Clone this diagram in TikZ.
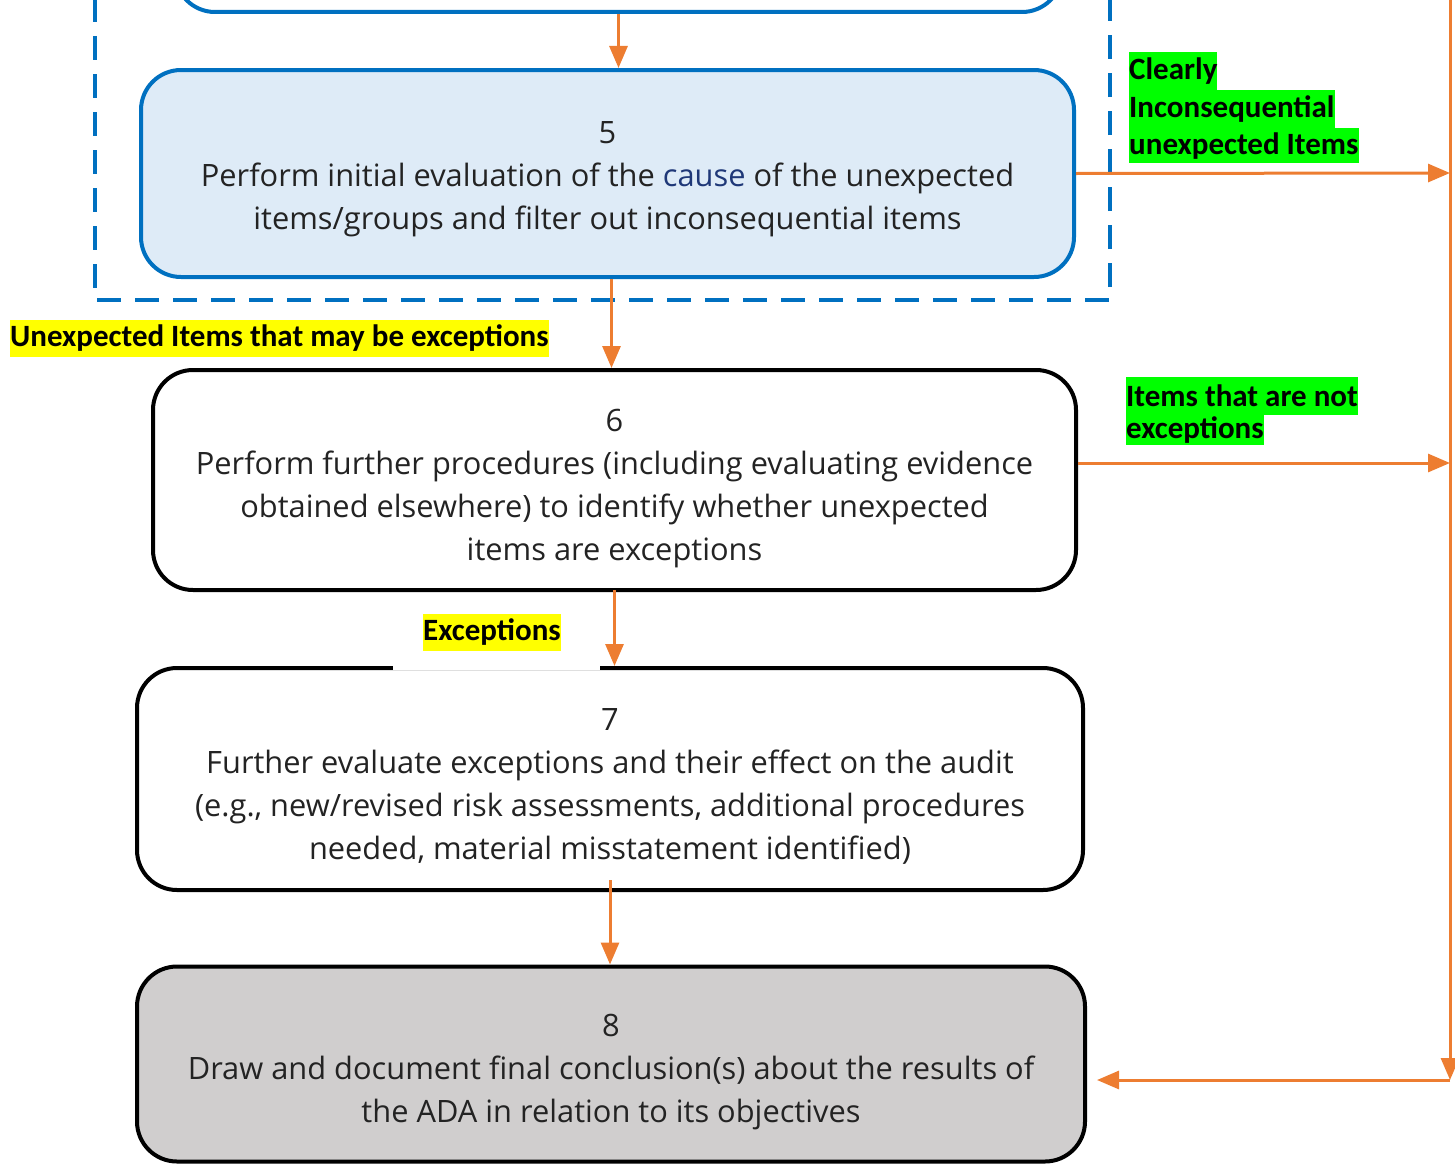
\documentclass[tikz,border=0pt]{standalone}
\usepackage{fontspec}
\setmainfont{Open Sans}
\newfontfamily\lblfont{Carlito}
\usetikzlibrary{arrows.meta,calc}
\definecolor{bblue}{RGB}{0,112,192}
\definecolor{lblue}{RGB}{222,235,247}
\definecolor{orng}{RGB}{237,125,49}
\definecolor{gbox}{RGB}{208,206,206}
\definecolor{navytxt}{RGB}{31,56,120}
\definecolor{txt}{RGB}{35,35,35}
\definecolor{hlgreen}{RGB}{0,255,0}
\definecolor{hlyellow}{RGB}{255,255,0}
\tikzset{
  boxbase/.style={rounded corners=40pt, line width=4pt, inner sep=0pt},
  bluebox/.style={boxbase, draw=bblue, fill=lblue},
  blackbox/.style={boxbase, draw=black, fill=white},
  graybox/.style={boxbase, draw=black, fill=gbox},
  boxtext/.style={align=center, inner sep=0pt, font=\fontsize{30.8}{43}\selectfont, text=txt},
  arr/.style={draw=orng, line width=3pt, -{Triangle[length=22pt,width=18pt]}},
  hlg/.style={fill=hlgreen, anchor=north west, inner sep=0pt, minimum height=38pt,
    font=\lblfont\bfseries\fontsize{31}{36}\selectfont, text=black},
  hly/.style={fill=hlyellow, inner sep=0pt, minimum height=37pt,
    font=\lblfont\bfseries\fontsize{31}{36}\selectfont, text=black},
}
\begin{document}
\begin{tikzpicture}[x=1pt,y=-1pt]
\useasboundingbox (0,0) rectangle (1455,1164);
\begin{scope}
\clip (0,0) rectangle (1455,1164);
% dashed group frame
\draw[bblue, line width=4pt, dash pattern=on 24pt off 14pt] (95,-40) rectangle (1110,300);
% partially visible top box
\node[boxbase, draw=bblue, fill=white, minimum width=887pt, minimum height=200pt] (box4) at (618.5,-88) {};
% boxes
\node[bluebox, minimum width=933pt, minimum height=207pt] (box5) at (607.5,173.5) {};
\node[boxtext] (box5txt) at ($(box5.center)+(0,6)$)
  {5\\Perform initial evaluation of the {\color{navytxt}cause} of the unexpected\\items/groups and filter out inconsequential items};
\node[blackbox, minimum width=923pt, minimum height=220pt] (box6) at (614.5,480) {};
\node[boxtext] (box6txt) at ($(box6.center)+(0,9)$)
  {6\\Perform further procedures (including evaluating evidence\\obtained elsewhere) to identify whether unexpected\\items are exceptions};
\node[blackbox, minimum width=946pt, minimum height=222pt] (box7) at (610,779) {};
\node[boxtext] (box7txt) at ($(box7.center)+(0,7)$)
  {7\\Further evaluate exceptions and their effect on the audit\\(e.g., new/revised risk assessments, additional procedures\\needed, material misstatement identified)};
\node[graybox, minimum width=948pt, minimum height=195pt] (box8) at (611,1064) {};
\node[boxtext] (box8txt) at ($(box8.center)+(0,8)$)
  {8\\Draw and document final conclusion(s) about the results of\\the ADA in relation to its objectives};
% white patch behind Exceptions label
\fill[white] (393,596) rectangle (600,670);
% labels
\node[hly, anchor=west] (lblUnexp) at (10,338) {Unexpected Items that may be exceptions};
\node[hly, anchor=west] (lblExc) at (423,632) {Exceptions};
\node[hlg] (cl1) at (1129,52) {Clearly};
\node[hlg] (cl2) at (1129,90) {Inconsequential};
\node[hlg, minimum height=35pt] (cl3) at (1129,128) {unexpected Items};
\node[hlg] (ne1) at (1126,377) {Items that are not};
\node[hlg, minimum height=30pt] (ne2) at (1126,415) {exceptions};
% right side collector
\coordinate (rtop) at (1450,-5);
\coordinate (r5) at (1450,173);
\coordinate (r6) at (1450,463);
\coordinate (rbot) at (1450,1080);
\draw[arr] (box4.south) -- (box4.south |- box5.north);
\draw[arr] ([xshift=4pt]box5.south) -- ([xshift=4pt]box5.south |- box6.north);
\draw[arr] ([yshift=2pt]box6.south) -- (box6.south |- box7.north);
\draw[arr] ([yshift=12pt]box7.south) -- (box7.south |- box8.north);
\draw[arr] (box5.east) -- (r5);
\draw[arr] ([yshift=17pt]box6.east) -- (r6);
\draw[arr] (rtop) -- (rbot);
\draw[arr] (rbot) -- ([xshift=10pt]box8.east |- rbot);
\end{scope}
\end{tikzpicture}
\end{document}
